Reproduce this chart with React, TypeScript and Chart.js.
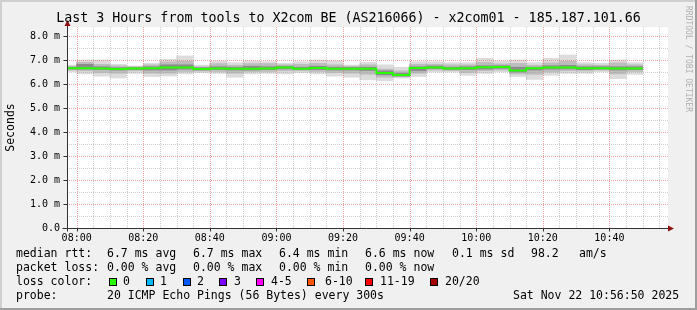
import React, { useEffect, useRef } from "react";
import { Chart, registerables } from "chart.js";

Chart.register(...registerables);

// ---------------- data ----------------
const stepStarts = [
  "07:55", "08:00", "08:05", "08:10", "08:15", "08:20", "08:25", "08:30", "08:35",
  "08:40", "08:45", "08:50", "08:55", "09:00", "09:05", "09:10", "09:15", "09:20",
  "09:25", "09:30", "09:35", "09:40", "09:45", "09:50", "09:55", "10:00", "10:05",
  "10:10", "10:15", "10:20", "10:25", "10:30", "10:35", "10:40", "10:45",
];
const lastStepEnd = "10:50";

const medianMs = [
  6.66, 6.66, 6.65, 6.63, 6.65, 6.66, 6.69, 6.69, 6.63,
  6.65, 6.64, 6.64, 6.65, 6.69, 6.64, 6.67, 6.64, 6.64,
  6.64, 6.46, 6.37, 6.67, 6.69, 6.65, 6.66, 6.70, 6.71,
  6.56, 6.66, 6.69, 6.69, 6.66, 6.66, 6.65, 6.65,
];
const smokeMinMs = [
  6.51, 6.42, 6.33, 6.25, 6.44, 6.31, 6.33, 6.42, 6.47,
  6.44, 6.28, 6.42, 6.44, 6.42, 6.47, 6.42, 6.33, 6.28,
  6.17, 6.13, 6.25, 6.31, 6.50, 6.50, 6.36, 6.44, 6.51,
  6.31, 6.19, 6.36, 6.44, 6.44, 6.51, 6.22, 6.40,
];
const smokeMaxMs = [
  6.79, 7.00, 7.00, 6.82, 6.75, 6.86, 7.03, 7.17, 6.79,
  6.96, 6.89, 6.96, 6.93, 6.86, 6.93, 7.00, 6.97, 6.79,
  6.90, 6.80, 6.70, 6.93, 6.93, 6.89, 6.89, 7.07, 6.96,
  7.00, 6.89, 7.07, 7.21, 6.89, 6.86, 7.00, 6.89,
];
const smokeMidLowMs = [
  6.58, 6.55, 6.48, 6.45, 6.55, 6.45, 6.45, 6.52, 6.54,
  6.52, 6.45, 6.52, 6.52, 6.55, 6.55, 6.52, 6.48, 6.45,
  6.40, 6.28, 6.30, 6.45, 6.58, 6.56, 6.48, 6.55, 6.58,
  6.42, 6.40, 6.50, 6.55, 6.54, 6.58, 6.42, 6.52,
];
const smokeMidHighMs = [
  6.74, 6.90, 6.82, 6.75, 6.72, 6.80, 6.92, 6.95, 6.72,
  6.85, 6.78, 6.85, 6.85, 6.80, 6.82, 6.86, 6.80, 6.74,
  6.80, 6.62, 6.55, 6.82, 6.82, 6.80, 6.80, 6.90, 6.84,
  6.86, 6.78, 6.88, 6.95, 6.80, 6.78, 6.88, 6.80,
];
const smokeCoreLowMs = [
  6.62, 6.62, 6.60, 6.58, 6.60, 6.58, 6.58, 6.62, 6.58,
  6.60, 6.58, 6.58, 6.60, 6.63, 6.60, 6.60, 6.58, 6.58,
  6.56, 6.38, 6.33, 6.55, 6.64, 6.60, 6.60, 6.62, 6.65,
  6.50, 6.58, 6.62, 6.63, 6.60, 6.62, 6.58, 6.60,
];
const smokeCoreHighMs = [
  6.70, 6.82, 6.72, 6.68, 6.69, 6.72, 6.80, 6.80, 6.68,
  6.72, 6.70, 6.74, 6.72, 6.74, 6.70, 6.74, 6.70, 6.69,
  6.70, 6.55, 6.45, 6.72, 6.75, 6.70, 6.72, 6.76, 6.76,
  6.70, 6.70, 6.76, 6.78, 6.72, 6.72, 6.72, 6.72,
];

const yTickValues = [0, 1, 2, 3, 4, 5, 6, 7, 8];
const yTickLabels = ["0.0", "1.0 m", "2.0 m", "3.0 m", "4.0 m", "5.0 m", "6.0 m", "7.0 m", "8.0 m"];
const xTickLabels = ["08:00", "08:20", "08:40", "09:00", "09:20", "09:40", "10:00", "10:20", "10:40"];

const titleText = "Last 3 Hours from tools to X2com BE (AS216066) - x2com01 - 185.187.101.66";
const yAxisTitle = "Seconds";
const watermark = "RRDTOOL / TOBI OETIKER";
const rttLabel = "median rtt:";
const rttStats = ["6.7 ms avg", "6.7 ms max", "6.4 ms min", "6.6 ms now", "0.1 ms sd", "98.2", "am/s"];
const lossLabel = "packet loss:";
const lossStats = ["0.00 % avg", "0.00 % max", "0.00 % min", "0.00 % now"];
const lossColorLabel = "loss color:";
const lossColorNames = ["0", "1", "2", "3", "4-5", "6-10", "11-19", "20/20"];
const lossColorValues = ["#26ff00", "#00b8ff", "#0059ff", "#7e00ff", "#ff00ff", "#ff5500", "#ff0000", "#a10000"];
const probeLabel = "probe:";
const probeText = "20 ICMP Echo Pings (56 Bytes) every 300s";
const dateText = "Sat Nov 22 10:56:50 2025";

// ---------------- helpers / layout ----------------
const toMin = (s: string) => {
  const [h, m] = s.split(":").map(Number);
  return h * 60 + m - 480; // minutes relative to 08:00
};
const STEP = 5;
const X_MIN = -2.9;
const X_MAX = 177.6;
const Y_MAX = 8.375;
const MONO = '"DejaVu Sans Mono", monospace';
const MAJOR_GRID = "rgba(235,90,90,0.55)";
const MINOR_GRID = "rgba(150,150,150,0.45)";

const rttStatX = [107, 193, 279, 365, 452, 531, 579];
const lossStatX = [107, 193, 279, 365];
const boxX = [109, 146, 183, 219, 256, 307, 365, 430];
const boxLabelX = [123, 160, 197, 234, 271, 325, 380, 445];

const MEDIAN_INDEX = 3;

const rrdPlugin = {
  id: "rrdLook",
  beforeDraw(chart: any) {
    const { ctx, chartArea: a, width, height } = chart;
    ctx.save();
    ctx.fillStyle = "#f0f0f0";
    ctx.fillRect(0, 0, width, height);
    ctx.fillStyle = "#cfcfcf";
    ctx.fillRect(0, 0, width, 2);
    ctx.fillRect(0, 0, 2, height);
    ctx.fillStyle = "#9e9e9e";
    ctx.fillRect(0, height - 2, width, 2);
    ctx.fillRect(width - 2, 0, 2, height);
    ctx.fillStyle = "#ffffff";
    ctx.fillRect(a.left, a.top, a.right - a.left, a.bottom - a.top);
    ctx.restore();
  },
  beforeDatasetDraw(chart: any, args: any) {
    if (args.index !== MEDIAN_INDEX) return;
    const { ctx, chartArea: a, scales } = chart;
    const xs = scales.x;
    const ys = scales.y;
    ctx.save();
    ctx.lineWidth = 1;
    ctx.setLineDash([1, 1]);
    for (let v = 0.5; v <= Y_MAX; v += 0.5) {
      const major = Math.abs(v - Math.round(v)) < 1e-6;
      const y = Math.round(ys.getPixelForValue(v)) + 0.5;
      ctx.strokeStyle = major ? MAJOR_GRID : MINOR_GRID;
      ctx.beginPath();
      ctx.moveTo(a.left, y);
      ctx.lineTo(a.right, y);
      ctx.stroke();
    }
    for (let t = Math.ceil(X_MIN / STEP) * STEP; t <= X_MAX; t += STEP) {
      const major = t % 20 === 0;
      const x = Math.round(xs.getPixelForValue(t)) + 0.5;
      ctx.strokeStyle = major ? MAJOR_GRID : MINOR_GRID;
      ctx.beginPath();
      ctx.moveTo(x, a.top);
      ctx.lineTo(x, a.bottom);
      ctx.stroke();
    }
    ctx.restore();
  },
  afterDatasetsDraw(chart: any) {
    const { ctx, chartArea: a, scales } = chart;
    const xs = scales.x;
    const ys = scales.y;
    ctx.save();
    ctx.setLineDash([]);
    ctx.strokeStyle = "#333";
    ctx.lineWidth = 1;
    const ax = Math.round(a.left) + 0.5;
    const ay = Math.round(a.bottom) + 0.5;
    ctx.beginPath();
    ctx.moveTo(ax, ay + 3);
    ctx.lineTo(ax, a.top - 5);
    ctx.moveTo(ax - 5, ay);
    ctx.lineTo(a.right + 2, ay);
    yTickValues.forEach((v) => {
      const y = Math.round(ys.getPixelForValue(v)) + 0.5;
      ctx.moveTo(ax - 4, y);
      ctx.lineTo(ax, y);
    });
    xTickLabels.forEach((l) => {
      const x = Math.round(xs.getPixelForValue(toMin(l))) + 0.5;
      ctx.moveTo(x, ay);
      ctx.lineTo(x, ay + 3);
    });
    ctx.stroke();
    ctx.fillStyle = "#8b1010";
    ctx.beginPath();
    ctx.moveTo(ax, a.top - 7);
    ctx.lineTo(ax - 3, a.top - 1);
    ctx.lineTo(ax + 3, a.top - 1);
    ctx.closePath();
    ctx.fill();
    ctx.beginPath();
    ctx.moveTo(a.right + 6, ay);
    ctx.lineTo(a.right, ay - 3);
    ctx.lineTo(a.right, ay + 3);
    ctx.closePath();
    ctx.fill();
    ctx.restore();
  },
  afterDraw(chart: any) {
    const { ctx, width } = chart;
    ctx.save();
    ctx.fillStyle = "#000";
    ctx.textBaseline = "middle";
    ctx.font = `13.3px ${MONO}`;
    ctx.textAlign = "center";
    ctx.fillText(titleText, width / 2, 19);
    ctx.font = `11.5px ${MONO}`;
    ctx.save();
    ctx.translate(11, 127.5);
    ctx.rotate(-Math.PI / 2);
    ctx.fillText(yAxisTitle, 0, 0);
    ctx.restore();
    ctx.save();
    ctx.fillStyle = "#b0b0b0";
    ctx.font = `8px ${MONO}`;
    ctx.translate(688, 59);
    ctx.rotate(Math.PI / 2);
    ctx.fillText(watermark, 0, 0);
    ctx.restore();
    ctx.textAlign = "left";
    ctx.font = `11.5px ${MONO}`;
    const r1 = 254, r2 = 268, r3 = 282, r4 = 296;
    ctx.fillText(rttLabel, 16, r1);
    rttStats.forEach((s, i) => ctx.fillText(s, rttStatX[i], r1));
    ctx.fillText(lossLabel, 16, r2);
    lossStats.forEach((s, i) => ctx.fillText(s, lossStatX[i], r2));
    ctx.fillText(lossColorLabel, 16, r3);
    lossColorNames.forEach((n, i) => {
      ctx.fillStyle = lossColorValues[i];
      ctx.fillRect(boxX[i], r3 - 4, 8, 8);
      ctx.strokeStyle = "#000";
      ctx.lineWidth = 1;
      ctx.strokeRect(boxX[i] + 0.5, r3 - 3.5, 7, 7);
      ctx.fillStyle = "#000";
      ctx.fillText(n, boxLabelX[i], r3);
    });
    ctx.fillText(probeLabel, 16, r4);
    ctx.fillText(probeText, 107, r4);
    ctx.fillText(dateText, 513, r4);
    ctx.restore();
  },
};

export default function App() {
  const canvasRef = useRef<HTMLCanvasElement | null>(null);

  useEffect(() => {
    if (!canvasRef.current) return;
    const centers = stepStarts.map((s) => toMin(s) + STEP / 2);
    const band = (lo: number[], hi: number[]) => centers.map((x, i) => ({ x, y: [lo[i], hi[i]] }));
    const medianPts = stepStarts.map((s, i) => ({ x: toMin(s), y: medianMs[i] }));
    medianPts.push({ x: toMin(lastStepEnd), y: medianMs[medianMs.length - 1] });

    const barCommon = {
      type: "bar" as const,
      grouped: false,
      barPercentage: 1,
      categoryPercentage: 1,
      borderWidth: 0,
      clip: 0,
    };

    const chart = new Chart(canvasRef.current, {
      type: "bar",
      data: {
        datasets: [
          { ...barCommon, data: band(smokeMinMs, smokeMaxMs) as any, backgroundColor: "#dcdcdc", order: 4 },
          { ...barCommon, data: band(smokeMidLowMs, smokeMidHighMs) as any, backgroundColor: "#bdbdbd", order: 3 },
          { ...barCommon, data: band(smokeCoreLowMs, smokeCoreHighMs) as any, backgroundColor: "#8c8c8c", order: 2 },
          {
            type: "line",
            data: medianPts as any,
            borderColor: "#26ff00",
            borderWidth: 2,
            pointRadius: 0,
            stepped: "before",
            clip: 0,
            order: 1,
          } as any,
        ],
      },
      options: {
        responsive: false,
        animation: false,
        devicePixelRatio: 1,
        layout: { padding: { left: 0, top: 27, right: 29, bottom: 0 } },
        plugins: { legend: { display: false }, tooltip: { enabled: false }, title: { display: false } },
        scales: {
          x: {
            type: "linear",
            offset: false,
            min: X_MIN,
            max: X_MAX,
            grid: { display: false, drawTicks: false, offset: false },
            border: { display: false },
            afterFit: (s: any) => { s.height = 82; },
            afterBuildTicks: (s: any) => { s.ticks = xTickLabels.map((l) => ({ value: toMin(l) })); },
            ticks: {
              autoSkip: false,
              maxRotation: 0,
              padding: 4,
              color: "#000",
              font: { family: MONO, size: 10 },
              callback: (_v: any, i: number) => xTickLabels[i],
            },
          },
          y: {
            type: "linear",
            min: 0,
            max: Y_MAX,
            grid: { display: false, drawTicks: false },
            border: { display: false },
            afterFit: (s: any) => { s.width = 67; },
            afterBuildTicks: (s: any) => { s.ticks = yTickValues.map((v) => ({ value: v })); },
            ticks: {
              autoSkip: false,
              padding: 7,
              color: "#000",
              font: { family: MONO, size: 10 },
              callback: (_v: any, i: number) => yTickLabels[i],
            },
          },
        },
      } as any,
      plugins: [rrdPlugin],
    });
    return () => chart.destroy();
  }, []);

  return (
    <div style={{ position: "absolute", left: 0, top: 0, width: 697, height: 310 }}>
      <canvas ref={canvasRef} width={697} height={310} style={{ display: "block" }} />
    </div>
  );
}
